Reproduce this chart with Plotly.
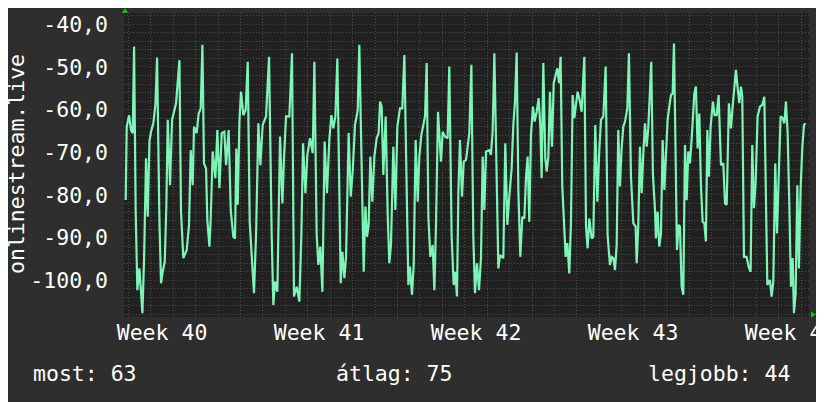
import plotly.graph_objects as go

# time in hours relative to start of week 41 (Monday 00:00); values in dB-like units
times = [-122.9,-121.8,-119.3,-117.2,-115.4,-113.9,-112.2,-110.4,-108.2,-106.8,-105.0,-103.2,-101.1,-99.3,-97.5,-95.8,-93.3,-91.1,-89.3,-86.8,-85.1,-83.3,-81.1,-79.4,-77.9,-75.4,-73.3,-69.0,-65.4,-63.7,-61.2,-57.6,-55.1,-53.3,-51.2,-49.8,-46.9,-44.8,-42.6,-40.8,-39.1,-36.9,-35.5,-33.3,-31.9,-29.8,-26.9,-24.8,-22.6,-20.1,-17.3,-15.5,-12.7,-10.5,-7.7,-5.9,-4.5,-3.0,-1.2,0.5,3.0,5.5,7.7,9.8,12.3,14.4,16.6,19.1,21.2,23.7,27.3,30.5,33.3,35.1,36.9,39.4,42.3,44.8,46.5,48.7,52.2,55.1,57.2,
 60.1,62.9,65.1,66.9,69.4,71.5,74.4,77.2,79.0,81.5,83.3,85.4,87.6,90.0,92.5,95.0,97.2,99.3,101.5,103.6,105.7,107.2,109.0,111.1,112.9,115.7,117.9,120.0,122.5,125.4,127.1,129.6,131.8,133.6,135.3,137.1,138.9,141.0,143.2,145.7,147.8,149.3,151.0,152.8,155.3,157.5,159.2,161.0,163.5,165.7,167.8,170.6,173.1,175.3,177.8,179.6,181.3,183.5,185.3,187.4,189.6,191.3,193.5,195.6,197.4,199.2,201.0,203.1,205.6,207.4,209.2,211.3,214.5,216.3,218.8,221.6,223.4,225.9,228.1,229.8,231.6,233.1,234.8,237.0,238.8,
 241.3,243.0,244.8,247.0,249.1,250.9,253.0,255.2,257.3,259.1,260.9,262.7,266.2,268.0,269.8,271.6,273.7,275.9,277.6,281.2,283.3,285.5,287.6,290.1,291.9,293.7,295.5,297.3,299.4,301.5,303.7,305.5,307.2,309.0,310.8,312.9,314.7,316.9,319.0,320.8,322.2,324.0,326.1,327.6,329.4,331.1,333.3,335.1,337.2,339.0,340.8,342.5,344.3,346.1,347.9,349.7,351.8,353.6,355.4,357.2,359.0,360.7,363.2,365.0,367.9,369.7,371.4,373.2,375.7,377.5,379.6,381.8,383.9,385.7,388.2,390.7,392.8,395.3,397.1,398.9,400.7,402.5,404.2,406.0,407.8,409.6,411.4,413.9,415.6,417.8,420.3,
 422.8,423.9,425.6,427.4,429.2,431.0,432.8,434.6,436.3,439.5,441.3,443.5,444.5,446.3,448.1,449.9,451.7,453.5,455.2,457.0,458.8,460.6,462.4,463.8,465.6,467.0,468.8,470.2,472.0,473.8,475.6,477.4,479.1,480.9,482.7,485.6,487.3,489.1,490.9,492.7,494.5,496.3,498.0,499.5,501.2,503.0,505.5,507.3,509.5,511.6,514.1,516.6,518.4,520.2,522.6,524.8,526.6,528.0,530.1,531.6,533.7,535.5,536.9,538.7,541.5,543.7,545.8,547.6,549.4,551.2,553.3,555.8,558.3,560.5,563.7,566.5,568.3,570.1,572.2,574.0,576.5,577.9,580.1,581.9,583.6,585.4,587.2,589.0,590.8,592.2,594.0,595.8,597.5,599.3,601.1,602.9,604.7]

values = [-81.2,-64.0,-61.3,-64.8,-65.5,-45.2,-83.9,-102.3,-97.2,-102.3,-107.7,-94.8,-71.4,-85.1,-67.5,-65.2,-63.2,-58.9,-47.8,-85.9,-100.7,-98.0,-95.6,-82.7,-62.4,-77.7,-62.4,-58.5,-48.4,-83.9,-94.8,-92.9,-87.0,-69.5,-77.7,-64.0,-65.5,-60.9,-59.7,-44.8,-72.6,-73.8,-85.9,-92.1,-85.5,-69.8,-76.1,-64.8,-78.4,-65.5,-65.2,-73.0,-64.8,-83.5,-89.8,-90.2,-69.1,-82.3,-62.8,-55.8,-61.3,-60.1,-48.8,-86.3,-96.8,-103.0,-89.4,-63.2,-73.0,-63.6,-61.6,-47.6,-89.0,-105.8,-100.3,-102.7,-66.3,-82.0,-71.4,-61.6,-61.6,-46.8,-103.8,
 -101.5,-105.0,-89.4,-67.9,-79.6,-70.6,-66.7,-70.2,-48.8,-89.4,-96.4,-92.1,-102.7,-67.5,-79.6,-67.1,-61.3,-64.4,-61.6,-48.0,-83.5,-100.7,-93.3,-99.5,-94.5,-65.5,-80.4,-74.5,-63.6,-60.1,-44.8,-78.8,-98.0,-82.7,-89.8,-87.0,-71.0,-81.6,-71.0,-66.7,-65.5,-58.1,-59.3,-75.3,-61.6,-84.7,-96.0,-91.7,-68.7,-83.5,-64.0,-59.7,-59.7,-47.2,-81.6,-101.1,-96.8,-103.4,-96.4,-67.1,-81.6,-71.0,-65.9,-63.2,-61.6,-49.1,-85.1,-94.5,-91.7,-102.3,-86.6,-60.5,-72.2,-65.2,-66.3,-66.7,-49.9,-89.8,-101.1,-98.0,-103.8,-79.6,-67.1,-80.4,-72.2,
 -71.8,-68.3,-65.5,-49.5,-89.8,-103.0,-96.0,-102.3,-94.8,-71.0,-83.5,-69.8,-69.5,-70.6,-64.8,-46.8,-76.5,-97.2,-94.1,-94.8,-67.9,-87.0,-80.4,-73.8,-63.6,-58.1,-46.6,-79.2,-94.5,-85.1,-85.5,-75.7,-71.0,-86.3,-65.9,-59.3,-62.8,-60.5,-57.3,-64.0,-76.1,-49.1,-71.4,-74.5,-71.0,-55.8,-68.7,-53.8,-51.9,-50.3,-53.8,-47.6,-78.0,-86.6,-94.5,-91.3,-98.4,-86.3,-56.6,-62.0,-59.3,-55.8,-58.1,-60.5,-47.6,-87.4,-92.5,-85.5,-90.2,-89.8,-63.6,-81.6,-69.5,-62.4,-61.6,-49.9,-89.4,-96.4,-94.5,-94.8,-97.6,-91.7,-64.8,-78.0,-69.1,-64.0,-62.8,-59.7,-46.8,-75.7,-86.6,
 -87.4,-96.0,-87.4,-68.7,-79.6,-70.2,-63.2,-68.7,-64.4,-48.8,-75.3,-83.5,-90.2,-83.9,-92.1,-89.0,-67.1,-78.8,-70.6,-62.4,-59.3,-56.6,-56.2,-44.5,-71.0,-92.9,-87.0,-87.4,-101.5,-103.4,-68.3,-81.2,-69.8,-72.6,-67.1,-56.2,-54.6,-69.1,-60.9,-78.0,-86.3,-86.6,-90.9,-64.8,-75.7,-64.0,-58.1,-61.3,-61.3,-56.6,-73.0,-72.6,-82.0,-82.3,-58.5,-64.4,-59.3,-55.0,-50.7,-54.2,-58.5,-54.6,-57.0,-94.5,-94.5,-96.8,-98.0,-68.3,-83.1,-76.9,-61.6,-59.3,-58.9,-57.0,-101.1,-99.9,-103.8,-100.3,-72.6,-89.0,-67.1,-61.6,-62.0,-63.2,-58.1,-65.2,-82.0,-101.5,-94.8,-107.7,-103.0,-77.7,-97.2,-78.8,-69.1,-63.6,-63.2]

week_pos = [-84, 84, 252, 420, 588]
week_labels = ["Week 40", "Week 41", "Week 42", "Week 43", "Week 44"]
week_starts = [0, 168, 336, 504]
y_ticks = [-40, -50, -60, -70, -80, -90, -100]
y_labels = ["-40,0", "-50,0", "-60,0", "-70,0", "-80,0", "-90,0", "-100,0"]
x_range = [-124.7, 608.3]
y_range = [-108.6, -37.35]
title_text = "onlinestream.live"
legend_texts = ["most: 63", "átlag: 75", "legjobb: 44"]

# page offset (default body margin) compensation
OFF = 8
W, H = 824 - OFF, 402 - OFF
L, R, T, B = 124, 809, 13, 317          # plot area in window pixels
def px(x): return (x - L) / (R - L)
def py(y): return (B - y) / (B - T)

FONT = "DejaVu Sans Mono"
FS = 21.5
RED = "#6e3030"
GRAY = "#4c4c4c"
DASH = "1px,2px"

fig = go.Figure()
fig.add_trace(go.Scatter(x=times, y=values, mode="lines",
                         line=dict(color="#7df5b6", width=2.2), hoverinfo="skip"))

fig.update_layout(
    width=W, height=H,
    margin=dict(l=L - OFF, r=824 - R, t=T - OFF, b=402 - B, autoexpand=False),
    paper_bgcolor="#2e2e2e", plot_bgcolor="#212121",
    showlegend=False,
    font=dict(family=FONT, size=FS, color="#ffffff"),
    xaxis=dict(range=x_range, tickmode="array", tickvals=week_pos, ticktext=week_labels,
               showgrid=False, zeroline=False, ticks="", showline=False, automargin=False,
               ticklabeloverflow="allow",
               minor=dict(tickmode="linear", tick0=0, dtick=24, showgrid=True,
                          gridcolor=GRAY, griddash=DASH, gridwidth=1)),
    xaxis2=dict(range=x_range, overlaying="x", anchor="y", tickmode="array",
                tickvals=week_starts, showticklabels=False, showgrid=True, automargin=False,
                gridcolor=RED, griddash=DASH, gridwidth=1, zeroline=False, ticks=""),
    yaxis=dict(range=y_range, tickmode="array", tickvals=y_ticks, ticktext=y_labels,
               showgrid=True, gridcolor=RED, griddash=DASH, gridwidth=1, automargin=False,
               zeroline=False, ticks="", ticklabelstandoff=15,
               minor=dict(tickmode="linear", tick0=0, dtick=2, showgrid=True,
                          gridcolor=GRAY, griddash=DASH, gridwidth=1)),
)

fig.add_annotation(text=title_text, textangle=-90, xref="paper", yref="paper",
                   x=px(16), y=py(164), xanchor="center", yanchor="middle",
                   showarrow=False, font=dict(family=FONT, size=FS, color="#ffffff"))
fig.add_annotation(text=legend_texts[0], xref="paper", yref="paper", x=px(31), y=py(373),
                   xanchor="left", yanchor="middle", showarrow=False)
fig.add_annotation(text=legend_texts[1], xref="paper", yref="paper", x=px(334), y=py(373),
                   xanchor="left", yanchor="middle", showarrow=False)
fig.add_annotation(text=legend_texts[2], xref="paper", yref="paper", x=px(792), y=py(373),
                   xanchor="right", yanchor="middle", showarrow=False)

# axis arrows
fig.add_shape(type="path", xref="paper", yref="paper",
              path=f"M {px(122)} {py(13)} L {px(128)} {py(13)} L {px(125)} {py(8)} Z",
              fillcolor="#00cc00", line=dict(width=0))
fig.add_shape(type="path", xref="paper", yref="paper",
              path=f"M {px(811)} {py(311.5)} L {px(811)} {py(317.5)} L {px(816)} {py(314.5)} Z",
              fillcolor="#00cc00", line=dict(width=0))

fig.write_html("out.html")
